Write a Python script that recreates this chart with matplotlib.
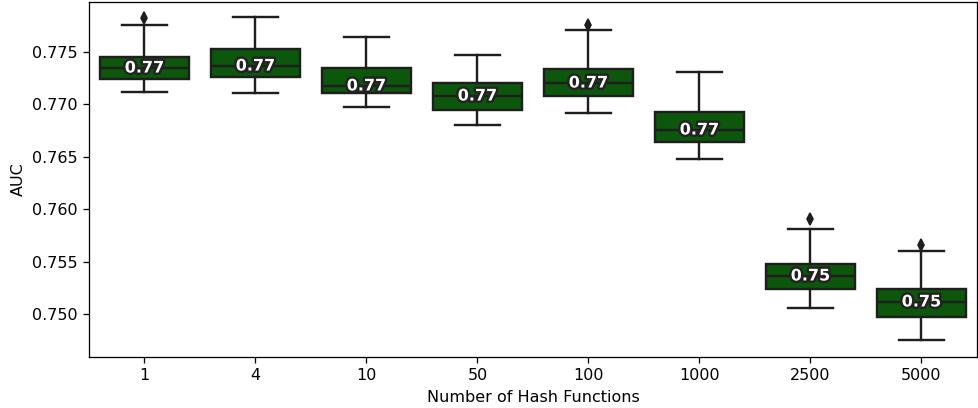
import numpy as np
import matplotlib
matplotlib.use("Agg")
import matplotlib.pyplot as plt
import matplotlib.patheffects as pe

# values
hash_funcs = ["1", "4", "10", "50", "100", "1000", "2500", "5000"]
whislo = [0.77118, 0.77109, 0.76975, 0.76803, 0.76918, 0.76479, 0.75057, 0.74752]
q1 = [0.77242, 0.77261, 0.77109, 0.76947, 0.77080, 0.76641, 0.75239, 0.74971]
med = [0.77347, 0.77366, 0.77176, 0.77080, 0.77204, 0.76756, 0.75363, 0.75115]
q3 = [0.77452, 0.77529, 0.77347, 0.77204, 0.77338, 0.76927, 0.75477, 0.75239]
whishi = [0.77758, 0.77834, 0.77643, 0.77471, 0.77710, 0.77309, 0.75811, 0.75601]
fliers = [[0.77824], [], [], [], [0.77758], [], [0.75906], [0.75658]]

box_color = "#0c570c"
gray = "#1e1e1e"

stats = []
for i in range(len(hash_funcs)):
    stats.append({"med": med[i], "q1": q1[i], "q3": q3[i],
                  "whislo": whislo[i], "whishi": whishi[i],
                  "fliers": fliers[i], "label": hash_funcs[i]})

dpi = 115
fig = plt.figure(figsize=(979/dpi, 408/dpi), dpi=dpi)
ax = fig.add_axes([89/979, 51/408, 888/979, 355/408])

pos = np.arange(len(hash_funcs))
ax.bxp(stats, positions=pos, widths=0.8, patch_artist=True,
       boxprops=dict(facecolor=box_color, edgecolor=gray, linewidth=1.5),
       medianprops=dict(color=gray, linewidth=1.5),
       whiskerprops=dict(color=gray, linewidth=1.5),
       capprops=dict(color=gray, linewidth=1.5),
       flierprops=dict(marker="d", markerfacecolor=gray, markeredgecolor=gray,
                       markersize=5, linestyle="none"))

for i, m in enumerate(med):
    ax.text(pos[i], m, f"{m:.2f}", ha="center", va="center",
            fontsize=10, fontweight="bold", color="white",
            path_effects=[pe.withStroke(linewidth=3, foreground="#222222")])

ax.set_xlim(-0.5, 7.5)
ax.set_ylim(0.74590, 0.77977)
ax.set_xticks(pos)
ax.set_xticklabels(hash_funcs)
ax.set_yticks([0.750, 0.755, 0.760, 0.765, 0.770, 0.775])
ax.set_yticklabels(["0.750", "0.755", "0.760", "0.765", "0.770", "0.775"])
ax.set_xlabel("Number of Hash Functions")
ax.set_ylabel("AUC")

fig.savefig("out.png", dpi=dpi)
